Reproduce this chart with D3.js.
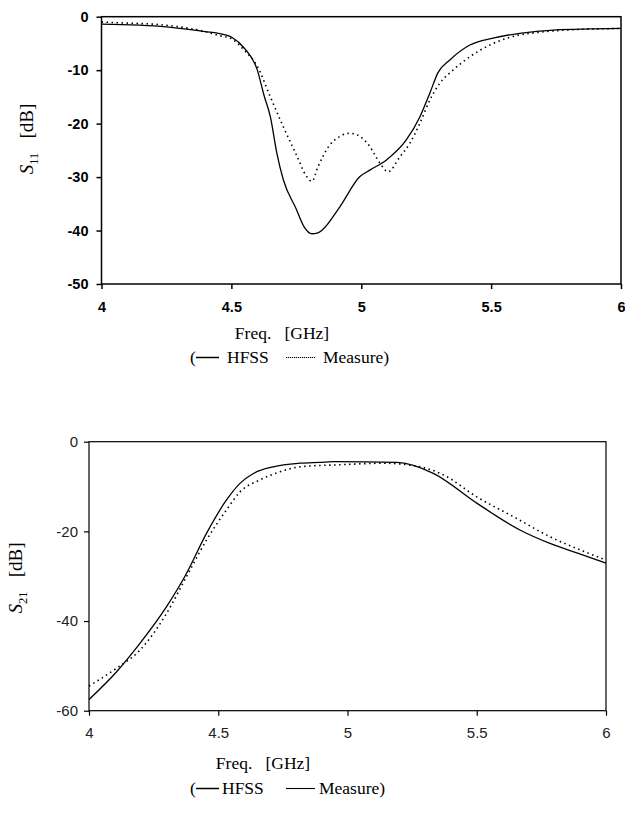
<!DOCTYPE html>
<html><head><meta charset="utf-8">
<script src="https://cdn.jsdelivr.net/npm/d3@7"></script>
<style>body{margin:0;background:#fff}svg{display:block}</style>
</head><body>
<script>
// ---- Data ----
const s11Freq_hfss = [4.0,4.25,4.4,4.45,4.5,4.55,4.6,4.625,4.65,4.675,4.7,4.75,4.78,4.81,4.83,4.85,4.917,4.995,5.033,5.097,5.174,5.226,5.264,5.295,5.341,5.418,5.507,5.61,5.74,6.0];
const s11_hfss =      [-1.4,-1.9,-2.8,-3.1,-3.8,-5.9,-10,-14.6,-18.7,-25.5,-30.5,-36,-39.3,-40.6,-40.5,-39.9,-35.6,-29.9,-28.7,-26.8,-23,-18.7,-14.3,-10.5,-8.1,-5.3,-4.0,-3.1,-2.5,-2.2];
const s11Freq_meas = [4.0,4.1,4.2,4.3,4.4,4.45,4.5,4.55,4.6,4.65,4.7,4.75,4.79,4.81,4.834,4.879,4.917,4.956,4.995,5.033,5.072,5.103,5.149,5.187,5.226,5.264,5.303,5.353,5.418,5.495,5.584,5.688,5.79,6.0];
const s11_meas =      [-1.0,-1.2,-1.4,-1.9,-2.8,-3.5,-4.1,-6.3,-9.3,-15,-20.6,-25.8,-29.9,-30.8,-28,-24,-22.4,-21.8,-22.4,-24.3,-27.4,-29,-26.2,-23.7,-19.9,-15.6,-12.4,-10,-7.5,-5.3,-3.7,-2.9,-2.5,-2.2];
const s21Freq_hfss = [4.0,4.107,4.197,4.3,4.377,4.455,4.532,4.584,4.636,4.713,4.816,4.894,4.945,5.19,5.332,5.5,5.667,5.783,5.912,6.0];
const s21_hfss =      [-57.5,-51.3,-45,-36.8,-29.4,-20.4,-13,-9.3,-7.1,-5.6,-4.8,-4.6,-4.46,-4.6,-7.05,-13.7,-19.7,-22.7,-25.3,-27.1];
const s21Freq_meas = [4.0,4.107,4.197,4.3,4.377,4.455,4.532,4.584,4.662,4.739,4.816,4.894,4.945,5.139,5.281,5.371,5.5,5.654,5.783,5.886,6.0];
const s21_meas =      [-54.5,-50.5,-46.5,-38.3,-30.1,-21.9,-15.2,-11.2,-8.5,-6.7,-5.6,-5.3,-5.2,-4.8,-5.6,-7.4,-12.3,-17.1,-21.2,-23.8,-26.4];
const xTicks = [4, 4.5, 5, 5.5, 6];
const s11Ticks = [0, -10, -20, -30, -40, -50];
const s21Ticks = [0, -20, -40, -60];
const xLabel = "Freq.\u00a0\u00a0\u00a0[GHz]";
const legendNames = ["HFSS", "Measure)"];

// ---- Drawing ----
const svg = d3.select("body").append("svg").attr("width", 625).attr("height", 819);
svg.append("rect").attr("width", 625).attr("height", 819).attr("fill", "#fff");
const serif = "Liberation Serif, Times New Roman, serif";

function panel(cfg) {
  const x = d3.scaleLinear().domain([4, 6]).range([cfg.x0, cfg.x1]);
  const y = d3.scaleLinear().domain(cfg.yDomain).range([cfg.y0, cfg.y1]);
  const g = svg.append("g");
  g.append("rect").attr("x", cfg.x0).attr("y", cfg.y0)
    .attr("width", cfg.x1 - cfg.x0).attr("height", cfg.y1 - cfg.y0)
    .attr("fill", "none").attr("stroke", "#000").attr("stroke-width", cfg.frameW);
  const fmt = d => String(d);
  const xa = g.append("g").attr("transform", `translate(0,${cfg.y1})`)
    .call(d3.axisBottom(x).tickValues(xTicks).tickSize(5).tickPadding(cfg.xPad).tickFormat(fmt));
  const ya = g.append("g").attr("transform", `translate(${cfg.x0},0)`)
    .call(d3.axisLeft(y).tickValues(cfg.yTicks).tickSize(5).tickPadding(cfg.yPad).tickFormat(fmt));
  [xa, ya].forEach(a => {
    a.select(".domain").remove();
    a.selectAll("line").attr("stroke", "#000").attr("stroke-width", cfg.frameW);
    a.selectAll("text").attr("font-family", "Liberation Sans, Arial, sans-serif")
      .attr("font-size", cfg.tickFs).attr("font-weight", cfg.tickW).attr("fill", cfg.tickColor);
  });
  const line = d3.line().x(d => x(d[0])).y(d => y(d[1])).curve(d3.curveMonotoneX);
  g.append("path").datum(d3.zip(cfg.hx, cfg.hy)).attr("d", line)
    .attr("fill", "none").attr("stroke", "#000").attr("stroke-width", 1.3);
  g.append("path").datum(d3.zip(cfg.mx, cfg.my)).attr("d", line)
    .attr("fill", "none").attr("stroke", "#000").attr("stroke-width", 1.6)
    .attr("stroke-dasharray", "1.5,3.5");
  // y label
  const yl = g.append("text").attr("transform", `translate(${cfg.ylx},${cfg.yly}) rotate(-90)`)
    .attr("text-anchor", "middle").attr("font-family", serif)
    .attr("font-size", 19).attr("fill", "#000");
  yl.append("tspan").attr("font-style", "italic").text("S");
  yl.append("tspan").attr("font-size", 12.5).attr("dy", 5).text(cfg.sub);
  yl.append("tspan").attr("dy", -5).text("\u00a0\u00a0\u00a0[dB]");
  // x label
  g.append("text").attr("x", cfg.xlx).attr("y", cfg.xly).attr("text-anchor", "middle")
    .attr("font-family", serif).attr("font-size", 17.5)
    .attr("fill", "#000").text(xLabel);
  // legend
  const lg = g.append("g").attr("font-family", serif).attr("font-size", 17.5).attr("fill", "#000");
  const ly = cfg.legY;
  lg.append("text").attr("x", 190).attr("y", ly).text("(");
  lg.append("line").attr("x1", 196).attr("x2", 219).attr("y1", ly - 5.5).attr("y2", ly - 5.5)
    .attr("stroke", "#000").attr("stroke-width", 1.5);
  lg.append("text").attr("x", cfg.hfssX).attr("y", ly).text(legendNames[0]);
  lg.append("line").attr("x1", 286).attr("x2", 315).attr("y1", ly - 5.5).attr("y2", ly - 5.5)
    .attr("stroke", "#000").attr("stroke-width", 1.1).attr("stroke-dasharray", cfg.legDash);
  lg.append("text").attr("x", cfg.measX).attr("y", ly).text(legendNames[1]);
}

panel({x0: 101.5, x1: 621, y0: 16.7, y1: 284, yDomain: [0, -50], yTicks: s11Ticks,
  hx: s11Freq_hfss, hy: s11_hfss, mx: s11Freq_meas, my: s11_meas,
  frameW: 1.5, tickFs: 14.5, tickW: "bold", tickColor: "#000", xPad: 13, yPad: 8,
  sub: "11", ylx: 33, yly: 139, xlx: 282, xly: 339, legY: 363, hfssX: 227, measX: 323,
  legDash: "1.2,0.8"});

panel({x0: 89, x1: 606, y0: 441.7, y1: 710.7, yDomain: [0, -60], yTicks: s21Ticks,
  hx: s21Freq_hfss, hy: s21_hfss, mx: s21Freq_meas, my: s21_meas,
  frameW: 1.2, tickFs: 15, tickW: "normal", tickColor: "#222", xPad: 12, yPad: 6,
  sub: "21", ylx: 22, yly: 578, xlx: 263, xly: 769, legY: 794, hfssX: 222, measX: 319,
  legDash: "none"});
</script>
</body></html>
